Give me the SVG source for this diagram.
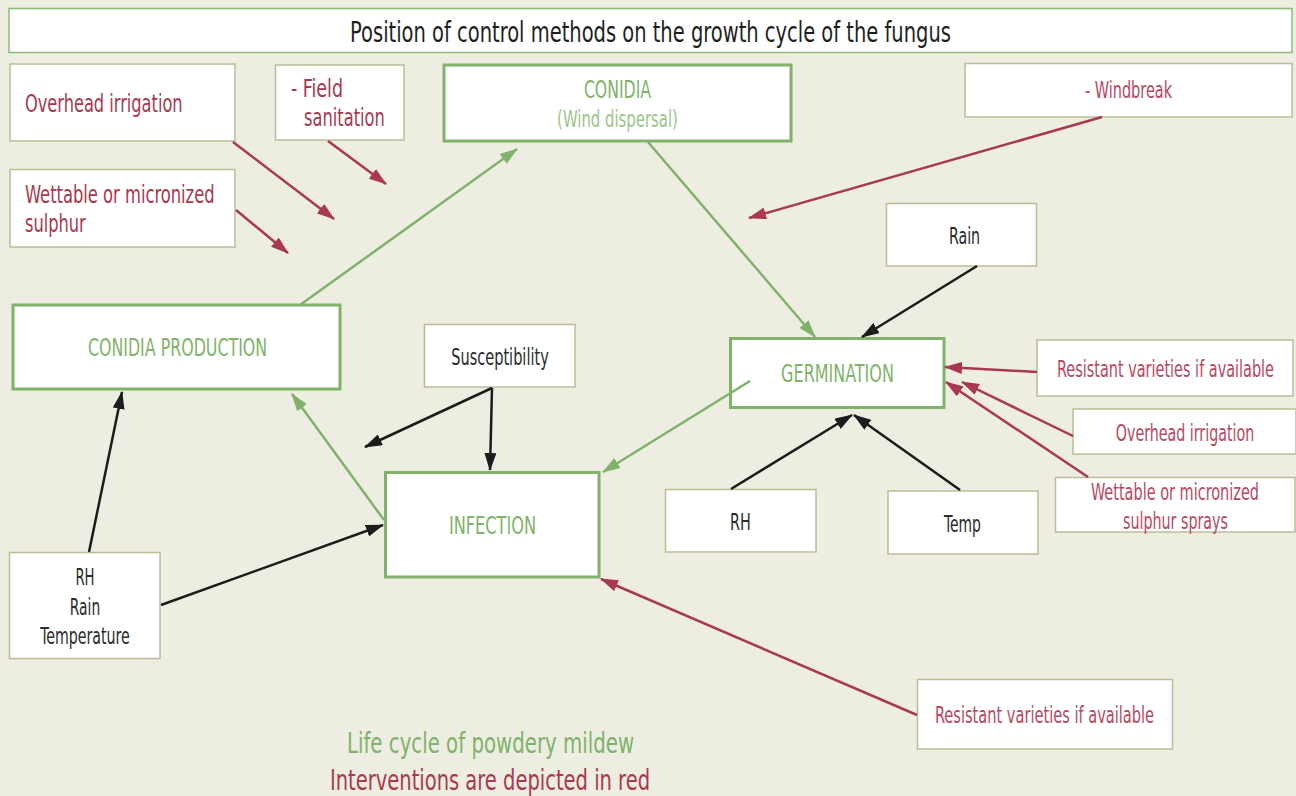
<svg xmlns="http://www.w3.org/2000/svg" width="1296" height="796" viewBox="0 0 1296 796">
<style>
text{font-family:"Liberation Sans Narrow","DejaVu Sans Condensed","Liberation Sans",sans-serif;}
.box{fill:#fff;stroke:#bcbc98;stroke-width:1.5;}
.gbox{fill:#fff;stroke:#80b26b;stroke-width:3;}
.tbox{fill:#fff;stroke:#8cbd78;stroke-width:1.5;}
.rl{fill:#a8394f;font-size:24px;}
.rr{fill:#b9485f;font-size:23px;}
.gt{fill:#7fb26a;font-size:24px;}
.dk{fill:#2b2b2b;font-size:23px;}
.m{text-anchor:middle;}
.red{stroke:#a8394f;stroke-width:2.5;fill:none;marker-end:url(#ar);}
.blk{stroke:#1c1c1c;stroke-width:2.5;fill:none;marker-end:url(#ab);}
.grn{stroke:#80b26b;stroke-width:2.5;fill:none;marker-end:url(#ag);}
</style>
<defs>
<marker id="ar" viewBox="0 0 18 12" refX="17" refY="6" markerWidth="18" markerHeight="12" markerUnits="userSpaceOnUse" orient="auto"><path d="M0,0 L18,6 L0,12 Z" fill="#a8394f"/></marker>
<marker id="ab" viewBox="0 0 18 12" refX="17" refY="6" markerWidth="18" markerHeight="12" markerUnits="userSpaceOnUse" orient="auto"><path d="M0,0 L18,6 L0,12 Z" fill="#1c1c1c"/></marker>
<marker id="ag" viewBox="0 0 18 12" refX="17" refY="6" markerWidth="18" markerHeight="12" markerUnits="userSpaceOnUse" orient="auto"><path d="M0,0 L18,6 L0,12 Z" fill="#80b26b"/></marker>
</defs>
<rect x="0" y="0" width="1296" height="796" fill="#eeede2"/>

<g id="title">
<rect class="tbox" x="9" y="8.5" width="1283" height="44"/>
<text class="m" transform="translate(650.5,42) scale(0.8,1)" font-size="28" fill="#1e1e1e" textLength="751" lengthAdjust="spacingAndGlyphs">Position of control methods on the growth cycle of the fungus</text>
</g>

<g id="overhead-irrigation-left">
<rect class="box" x="10" y="64" width="225" height="77"/>
<text class="rl" transform="translate(25,112) scale(0.8,1)" textLength="197" lengthAdjust="spacingAndGlyphs">Overhead irrigation</text>
</g>
<g id="field-sanitation">
<rect class="box" x="275.5" y="65" width="128.5" height="75"/>
<text class="rl" transform="translate(291,97) scale(0.8,1)" textLength="65" lengthAdjust="spacingAndGlyphs">- Field</text>
<text class="rl" transform="translate(304,126) scale(0.8,1)" textLength="101" lengthAdjust="spacingAndGlyphs">sanitation</text>
</g>
<g id="wettable-left">
<rect class="box" x="10" y="169.5" width="225" height="77.5"/>
<text class="rl" transform="translate(25,203) scale(0.8,1)" textLength="237" lengthAdjust="spacingAndGlyphs">Wettable or micronized</text>
<text class="rl" transform="translate(25,232) scale(0.8,1)" textLength="76" lengthAdjust="spacingAndGlyphs">sulphur</text>
</g>
<g id="conidia">
<rect class="gbox" x="444" y="65" width="347" height="76"/>
<text class="gt m" transform="translate(617.5,98) scale(0.8,1)" textLength="84" lengthAdjust="spacingAndGlyphs">CONIDIA</text>
<text class="m" transform="translate(617.5,127) scale(0.8,1)" font-size="23" fill="#9cc48c" textLength="151" lengthAdjust="spacingAndGlyphs">(Wind dispersal)</text>
</g>
<g id="windbreak">
<rect class="box" x="965" y="63.5" width="327" height="53.5"/>
<text class="rr m" transform="translate(1128.5,98) scale(0.8,1)" textLength="109" lengthAdjust="spacingAndGlyphs">- Windbreak</text>
</g>
<g id="rain">
<rect class="box" x="886.5" y="203.5" width="150" height="62.5"/>
<text class="dk m" transform="translate(964.5,244) scale(0.8,1)" textLength="39" lengthAdjust="spacingAndGlyphs">Rain</text>
</g>
<g id="conidia-production">
<rect class="gbox" x="13" y="305" width="327" height="84"/>
<text class="gt m" transform="translate(177.5,356) scale(0.8,1)" textLength="224" lengthAdjust="spacingAndGlyphs">CONIDIA PRODUCTION</text>
</g>
<g id="susceptibility">
<rect class="box" x="424.5" y="324.5" width="150.5" height="62.5"/>
<text class="dk m" transform="translate(500,365) scale(0.8,1)" textLength="122" lengthAdjust="spacingAndGlyphs">Susceptibility</text>
</g>
<g id="germination">
<rect class="gbox" x="730.5" y="338.5" width="213.5" height="69"/>
<text class="gt m" transform="translate(837.5,382) scale(0.8,1)" textLength="141" lengthAdjust="spacingAndGlyphs">GERMINATION</text>
</g>
<g id="resistant-right">
<rect class="box" x="1037" y="340" width="256" height="56"/>
<text class="rr m" transform="translate(1165.5,377) scale(0.7,1)" textLength="310" lengthAdjust="spacingAndGlyphs">Resistant varieties if available</text>
</g>
<g id="overhead-irrigation-right">
<rect class="box" x="1073" y="409" width="223" height="45"/>
<text class="rr m" transform="translate(1185,441) scale(0.8,1)" textLength="173" lengthAdjust="spacingAndGlyphs">Overhead irrigation</text>
</g>
<g id="wettable-right">
<rect class="box" x="1055.5" y="477.5" width="239.5" height="54.5"/>
<text class="rr m" transform="translate(1175,500) scale(0.8,1)" textLength="210" lengthAdjust="spacingAndGlyphs">Wettable or micronized</text>
<text class="rr m" transform="translate(1175.5,529) scale(0.8,1)" textLength="131" lengthAdjust="spacingAndGlyphs">sulphur sprays</text>
</g>
<g id="infection">
<rect class="gbox" x="385.5" y="472.5" width="213.5" height="104.5"/>
<text class="gt m" transform="translate(492.5,534) scale(0.8,1)" textLength="109" lengthAdjust="spacingAndGlyphs">INFECTION</text>
</g>
<g id="rh-mid">
<rect class="box" x="665.5" y="489.5" width="150.5" height="62.5"/>
<text class="dk m" transform="translate(740.5,530) scale(0.8,1)" textLength="26" lengthAdjust="spacingAndGlyphs">RH</text>
</g>
<g id="temp">
<rect class="box" x="888" y="491" width="150" height="63"/>
<text class="dk m" transform="translate(962.5,532) scale(0.8,1)" textLength="46" lengthAdjust="spacingAndGlyphs">Temp</text>
</g>
<g id="rh-rain-temperature">
<rect class="box" x="9.5" y="552.5" width="150.5" height="106"/>
<text class="dk m" transform="translate(85,585) scale(0.8,1)" textLength="24" lengthAdjust="spacingAndGlyphs">RH</text>
<text class="dk m" transform="translate(85,615) scale(0.8,1)" textLength="38" lengthAdjust="spacingAndGlyphs">Rain</text>
<text class="dk m" transform="translate(85,644) scale(0.8,1)" textLength="112" lengthAdjust="spacingAndGlyphs">Temperature</text>
</g>
<g id="resistant-bottom">
<rect class="box" x="917.5" y="679.5" width="255" height="69.5"/>
<text class="rr m" transform="translate(1044.5,723) scale(0.7,1)" textLength="313" lengthAdjust="spacingAndGlyphs">Resistant varieties if available</text>
</g>

<g id="connectors">
<line class="red" x1="233" y1="142" x2="334" y2="219"/>
<line class="red" x1="328" y1="141" x2="386" y2="184"/>
<line class="red" x1="236" y1="210" x2="288" y2="253"/>
<line class="red" x1="1102" y1="117" x2="749" y2="218"/>
<line class="red" x1="1037" y1="372" x2="945" y2="367"/>
<line class="red" x1="1073" y1="436" x2="962" y2="382"/>
<line class="red" x1="1088" y1="477" x2="946" y2="382"/>
<line class="red" x1="917" y1="715" x2="601" y2="579"/>
<line class="blk" x1="977" y1="266" x2="862" y2="337"/>
<line class="blk" x1="731" y1="489" x2="852" y2="415"/>
<line class="blk" x1="960" y1="490" x2="854" y2="415"/>
<line class="blk" x1="492" y1="388" x2="365" y2="447"/>
<line class="blk" x1="492" y1="388" x2="490" y2="470"/>
<line class="blk" x1="89" y1="552" x2="122" y2="392"/>
<line class="blk" x1="161" y1="605" x2="383" y2="525"/>
<line class="grn" x1="300" y1="305" x2="517" y2="149"/>
<line class="grn" x1="648" y1="142" x2="815" y2="337"/>
<line class="grn" x1="750" y1="381" x2="603" y2="472"/>
<line class="grn" x1="384" y1="520" x2="292" y2="394"/>
</g>

<g id="caption">
<text class="m" transform="translate(490.5,753) scale(0.8,1)" font-size="28" fill="#7fb26a" textLength="359" lengthAdjust="spacingAndGlyphs">Life cycle of powdery mildew</text>
<text class="m" transform="translate(490,790) scale(0.8,1)" font-size="28" fill="#a8394f" textLength="400" lengthAdjust="spacingAndGlyphs">Interventions are depicted in red</text>
</g>
</svg>
